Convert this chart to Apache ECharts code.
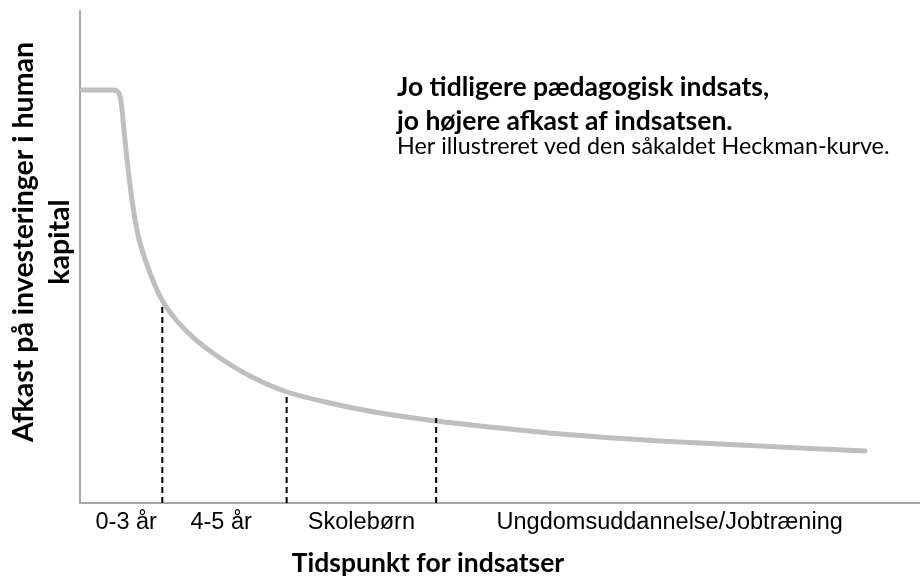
<!DOCTYPE html>
<html>
<head>
<meta charset="utf-8">
<style>
  html, body { margin: 0; padding: 0; background: #fff; }
  #chart { width: 920px; height: 577px; }
</style>
<script src="https://cdn.jsdelivr.net/npm/echarts@6/dist/echarts.min.js"></script>
</head>
<body>
<div id="chart"></div>
<script>
// Heckman-kurve: afkast falder med alderen for indsatsen
const curveX = [0.24, 3.81, 4.40, 4.76, 5.00, 5.24, 5.60, 6.19, 6.67, 7.14, 8.33, 9.76, 11.55, 13.69, 16.31, 20.24, 24.64, 29.76, 35.71, 42.38, 50.0, 57.14, 69.05, 80.95, 93.45];
const curveY = [83.94, 83.94, 83.74, 82.72, 79.88, 75.81, 69.72, 61.59, 56.50, 52.85, 46.75, 41.26, 36.99, 33.33, 29.88, 25.81, 22.56, 20.33, 18.29, 16.67, 15.24, 14.02, 12.60, 11.59, 10.57];

// stiplede skillelinjer mellem perioderne
const dividerX = [9.8, 24.6, 42.4];
const dividerTop = [40.6, 22.0, 17.3];

// periodenavne og deres placering langs x-aksen
const periods = ['0-3 år', '4-5 år', 'Skolebørn', 'Ungdomsuddannelse/Jobtræning'];
const periodPos = [5.5, 16.8, 33.5, 70.2];

const chart = echarts.init(document.getElementById('chart'));

const dividerSeries = dividerX.map((x, i) => ({
  type: 'line',
  data: [[x, 0], [x, dividerTop[i]]],
  symbol: 'none',
  silent: true,
  z: 5,
  lineStyle: { color: '#000', width: 2, type: [6, 4] },
}));

const option = {
  animation: false,
  grid: { left: 80, right: 0, top: 11, bottom: 74 },
  xAxis: {
    type: 'value',
    min: 0,
    max: 100,
    axisLine: { show: true, lineStyle: { color: '#a6a6a6', width: 2 } },
    axisTick: { show: false },
    splitLine: { show: false },
    axisLabel: {
      customValues: periodPos,
      formatter: (v) => periods[periodPos.indexOf(v)] || '',
      color: '#000',
      fontFamily: '"Liberation Sans", Arial, sans-serif',
      fontSize: 23.5,
      margin: 8,
    },
  },
  yAxis: {
    type: 'value',
    min: 0,
    max: 100,
    axisLine: { show: true, lineStyle: { color: '#a6a6a6', width: 2 } },
    axisTick: { show: false },
    axisLabel: { show: false },
    splitLine: { show: false },
  },
  graphic: [
    {
      type: 'text',
      left: 397,
      top: 70,
      style: {
        text: 'Jo tidligere pædagogisk indsats,\njo højere afkast af indsatsen.',
        font: 'bold 26.5px Lato, sans-serif',
        lineHeight: 34,
        fill: '#000',
      },
    },
    {
      type: 'text',
      left: 397,
      top: 135,
      style: {
        text: 'Her illustreret ved den såkaldet Heckman-kurve.',
        font: '23.3px Lato, sans-serif',
        fill: '#000',
      },
    },
    {
      type: 'text',
      x: 428,
      y: 563,
      style: {
        text: 'Tidspunkt for indsatser',
        font: 'bold 26.5px Lato, sans-serif',
        textAlign: 'center',
        textVerticalAlign: 'middle',
        fill: '#000',
      },
    },
    {
      type: 'text',
      x: 42,
      y: 242,
      rotation: Math.PI / 2,
      style: {
        text: 'Afkast på investeringer i human\nkapital',
        font: 'bold 28.5px Lato, sans-serif',
        lineHeight: 36,
        textAlign: 'center',
        textVerticalAlign: 'middle',
        fill: '#000',
      },
    },
  ],
  series: [
    {
      type: 'line',
      data: curveX.map((x, i) => [x, curveY[i]]),
      smooth: 0.3,
      symbol: 'none',
      silent: true,
      z: 3,
      lineStyle: { color: '#bfbfbf', width: 5, cap: 'round', join: 'round' },
    },
    ...dividerSeries,
  ],
};

chart.setOption(option);
</script>
</body>
</html>
